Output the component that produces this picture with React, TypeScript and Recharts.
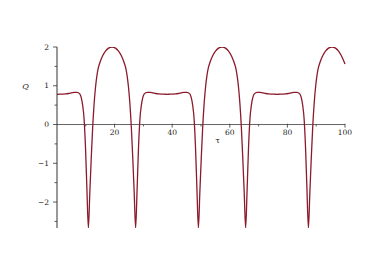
import { LineChart, Line, XAxis, YAxis, ReferenceLine, ReferenceDot } from "recharts"

// values
const tau = [
  0, 1, 2, 3, 4, 5, 6, 7, 7.9, 8.4, 8.9, 9.4, 9.9, 10.4, 10.9,
  11.4, 11.9, 12.4, 12.9, 13.4, 13.9, 14.4, 14.9, 15.9, 16.9, 17.9, 19.1,
  20.3, 21.3, 22.3, 23.3, 23.8, 24.3, 24.8, 25.3, 25.8, 26.3, 26.8, 27.3,
  27.8, 28.3, 28.8, 29.3, 29.8, 30.3, 31.3, 32.3, 33.3, 34.3, 35.3, 36.3, 37.3, 38.2,
  39.1, 40.1, 41.1, 42.1, 43.1, 44.1, 45.1, 46.1, 46.6, 47.1, 47.6, 48.1, 48.6, 49.1,
  49.6, 50.1, 50.6, 51.1, 51.6, 52.1, 52.6, 53.1, 54.1, 55.1, 56.1, 57.3,
  58.5, 59.5, 60.5, 61.5, 62, 62.5, 63, 63.5, 64, 64.5, 65, 65.5,
  66, 66.5, 67, 67.5, 68, 68.5, 69.5, 70.5, 71.5, 72.5, 73.5, 74.5, 75.5, 76.4,
  77.3, 78.3, 79.3, 80.3, 81.3, 82.3, 83.3, 84.3, 84.8, 85.3, 85.8, 86.3, 86.8, 87.3,
  87.8, 88.3, 88.8, 89.3, 89.8, 90.3, 90.8, 91.3, 92.3, 93.3, 94.3, 95.5,
  96.7, 97.7, 98.7, 100,
]
const q = [
  0.78, 0.782, 0.785, 0.79, 0.8, 0.815, 0.83, 0.83, 0.79, 0.7, 0.5, 0.15, -0.6, -1.7, -2.67,
  -1.75, -0.85, -0.05, 0.55, 0.98, 1.28, 1.48, 1.6, 1.78, 1.9, 1.97, 2.0,
  1.97, 1.9, 1.78, 1.6, 1.48, 1.28, 0.98, 0.55, -0.05, -0.85, -1.75, -2.67,
  -1.7, -0.6, 0.15, 0.5, 0.7, 0.79, 0.83, 0.83, 0.815, 0.8, 0.79, 0.785, 0.782, 0.78,
  0.782, 0.785, 0.79, 0.8, 0.815, 0.83, 0.83, 0.79, 0.7, 0.5, 0.15, -0.6, -1.7, -2.67,
  -1.75, -0.85, -0.05, 0.55, 0.98, 1.28, 1.48, 1.6, 1.78, 1.9, 1.97, 2.0,
  1.97, 1.9, 1.78, 1.6, 1.48, 1.28, 0.98, 0.55, -0.05, -0.85, -1.75, -2.67,
  -1.7, -0.6, 0.15, 0.5, 0.7, 0.79, 0.83, 0.83, 0.815, 0.8, 0.79, 0.785, 0.782, 0.78,
  0.782, 0.785, 0.79, 0.8, 0.815, 0.83, 0.83, 0.79, 0.7, 0.5, 0.15, -0.6, -1.7, -2.67,
  -1.75, -0.85, -0.05, 0.55, 0.98, 1.28, 1.48, 1.6, 1.78, 1.9, 1.97, 2.0,
  1.97, 1.9, 1.78, 1.56,
]
const xMajor = [20, 40, 60, 80, 100]
const xMinor = [10, 30, 50, 70, 90]
const yTicks = [-2.5, -2, -1.5, -1, -0.5, 0, 0.5, 1, 1.5, 2]

const data = tau.map((t, i) => ({ tau: t, Q: q[i] }))

const axisColor = "#333"
const font = "'DejaVu Serif', serif"

function YTick(props: any) {
  const { x, y, payload } = props
  const major = Number.isInteger(payload.value)
  const label = payload.value < 0 ? "\u2212" + Math.abs(payload.value) : String(payload.value)
  return (
    <g>
      <line x1={x - (major ? 4 : 2.5)} x2={x} y1={y} y2={y} stroke={axisColor} strokeWidth={0.8} />
      {major && (
        <text x={x - 8} y={y} dy={2.7} textAnchor="end" fontSize={7.5} fontFamily={font} fill="#222">
          {label}
        </text>
      )}
    </g>
  )
}

export default function App() {
  return (
    <div>
      <style>{"body{margin:0}"}</style>
      <LineChart width={382} height={273} data={data} margin={{ top: 47, right: 37, bottom: 45, left: 17 }}>
        <XAxis dataKey="tau" type="number" domain={[0, 100]} hide />
        <YAxis
          type="number"
          domain={[-2.67, 2]}
          ticks={yTicks}
          width={40}
          tickSize={0}
          tickMargin={0}
          tickLine={false}
          tick={<YTick />}
          axisLine={{ stroke: axisColor, strokeWidth: 1 }}
          interval={0}
          allowDataOverflow
        />
        <ReferenceLine y={0} stroke="#666" strokeWidth={1} />
        {xMajor.map((t) => (
          <ReferenceLine
            key={"M" + t}
            segment={[{ x: t, y: 0.02 }, { x: t, y: -0.08 }]}
            stroke={axisColor}
            strokeWidth={0.8}
            ifOverflow="visible"
            label={{ value: String(t), position: "bottom", offset: 2, fontSize: 7.5, fontFamily: font, fill: "#222" }}
          />
        ))}
        {xMinor.map((t) => (
          <ReferenceLine
            key={"m" + t}
            segment={[{ x: t, y: 0 }, { x: t, y: -0.05 }]}
            stroke={axisColor}
            strokeWidth={0.8}
            ifOverflow="visible"
          />
        ))}
        <ReferenceDot
          x={55.8}
          y={-0.41}
          r={0}
          fill="none"
          stroke="none"
          ifOverflow="visible"
          label={{ value: "τ", position: "center", fontSize: 8, fontFamily: font, fill: "#222" }}
        />
        <ReferenceDot
          x={-10.9}
          y={0.98}
          r={0}
          fill="none"
          stroke="none"
          ifOverflow="visible"
          label={{ value: "Q", position: "center", fontSize: 8, fontFamily: font, fontStyle: "italic", fill: "#222" }}
        />
        <Line
          type="monotone"
          dataKey="Q"
          stroke="#8b1a2b"
          strokeWidth={1.3}
          dot={false}
          isAnimationActive={false}
        />
      </LineChart>
    </div>
  )
}
